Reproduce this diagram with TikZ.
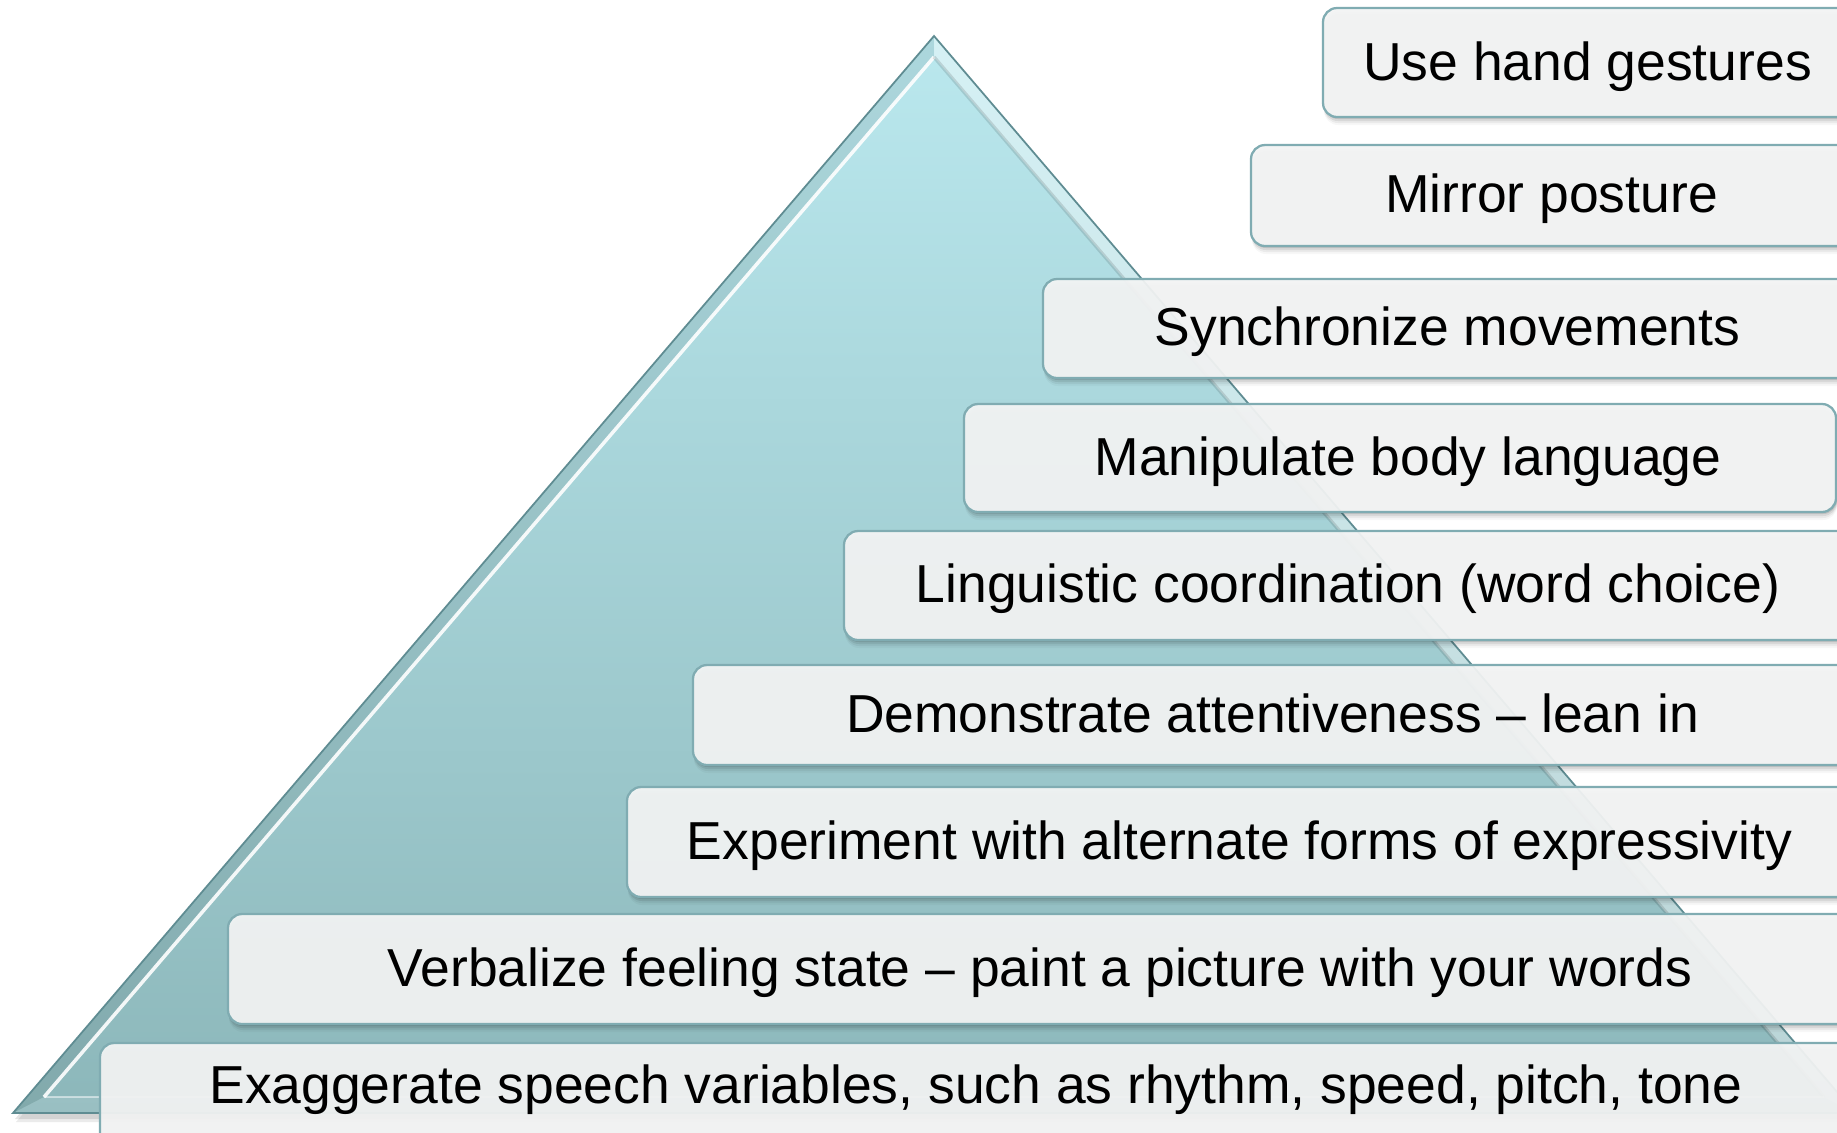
\documentclass[tikz,border=0pt]{standalone}
\usepackage{fontspec}
\setmainfont{Liberation Sans}
\usetikzlibrary{calc}

\definecolor{tritop}{RGB}{186,232,238}
\definecolor{tribot}{RGB}{140,183,186}
\definecolor{triline}{RGB}{95,140,146}
\definecolor{boxfill}{RGB}{245,246,246}
\definecolor{boxline}{RGB}{128,172,178}

\tikzset{
  tierbox/.style={draw=boxline, line width=0.65pt, fill=boxfill, fill opacity=0.93,
                  rounded corners=4pt},
  tiershadow/.style={fill=black, rounded corners=4pt},
  tiertext/.style={anchor=base, inner sep=0pt, text=black,
                   font=\fontsize{15.2}{18}\selectfont},
}

% one tier: name, left, top, bottom, right edge, text baseline, label
\newcommand\tierbox[7]{%
  \foreach \d/\o in {2/0.10,4/0.08,6/0.05,8/0.03}
    \fill[tiershadow, opacity=\o] (#2+1,#3+\d) rectangle (#5+1,#4+\d);
  \path[tierbox] (#2,#3) rectangle (#5,#4);
  \node[tiertext] (#1) at ({(#2+1852)/2},#6) {#7};
}

\begin{document}
\begin{tikzpicture}[x=0.01cm, y=-0.01cm]
  \useasboundingbox (0,0) rectangle (1837,1132);
  \clip (0,0) rectangle (1837,1132);
  \fill[white] (0,0) rectangle (1837,1132);

  % pyramid corners (outer and inner bevel)
  \coordinate (ap)  at (934,36);
  \coordinate (bl)  at (13,1113);
  \coordinate (br)  at (1855,1113);
  \coordinate (iap) at (934,57);
  \coordinate (ibl) at (44,1097);
  \coordinate (ibr) at (1824,1097);

  % pyramid shadow
  \fill[black, opacity=0.10] ($(ap)+(2,4)$) -- ($(bl)+(2,6)$) -- ($(br)+(2,6)$) -- cycle;
  \fill[black, opacity=0.08] ($(ap)+(3,6)$) -- ($(bl)+(3,9)$) -- ($(br)+(3,9)$) -- cycle;

  % pyramid body
  \fill[top color=tritop, bottom color=tribot] (ap) -- (bl) -- (br) -- cycle;
  % bevel faces
  \fill[black, opacity=0.07] (ap) -- (bl) -- (ibl) -- (iap) -- cycle;
  \fill[white, opacity=0.40] (ap) -- (iap) -- (ibr) -- (br) -- cycle;
  \fill[white, opacity=0.12] (bl) -- (ibl) -- (ibr) -- (br) -- cycle;
  \draw[white, opacity=0.9, line width=1pt] (ibl) -- (iap);
  \draw[black, opacity=0.12, line width=1pt] (iap) -- (ibr);
  \draw[white, opacity=0.5, line width=0.5pt] (ibl) -- (ibr);
  \draw[triline, line width=0.5pt, line join=miter] (ap) -- (bl) -- (br) -- cycle;

  % tiers, top to bottom
  \tierbox{t1}{1323}{8}{117}{1852}{80}{Use hand gestures}
  \tierbox{t2}{1251}{145}{246}{1852}{212}{Mirror posture}
  \tierbox{t3}{1043}{279}{378}{1852}{345}{Synchronize movements}
  \tierbox{t4}{964}{404}{512}{1836}{475}{Manipulate body language}
  \tierbox{t5}{844}{531}{640}{1852}{602}{Linguistic coordination (word choice)}
  \tierbox{t6}{693}{665}{765}{1852}{732}{Demonstrate attentiveness \textendash{} lean in}
  \tierbox{t7}{627}{787}{897}{1852}{859}{Experiment with alternate forms of expressivity}
  \tierbox{t8}{228}{914}{1024}{1852}{986}{Verbalize feeling state \textendash{} paint a picture with your words}
  \tierbox{t9}{100}{1043}{1150}{1852}{1103}{Exaggerate speech variables, such as rhythm, speed, pitch, tone}
\end{tikzpicture}
\end{document}
